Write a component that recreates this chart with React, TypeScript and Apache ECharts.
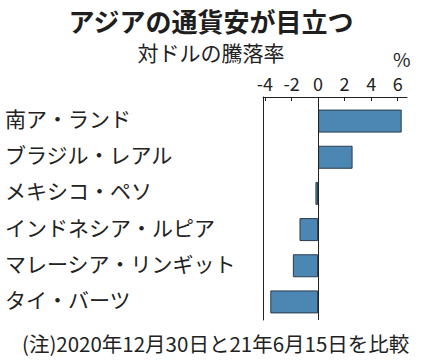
import React, { useEffect, useRef } from "react";
import * as echarts from "echarts";

const categories = [
  "南ア・ランド",
  "ブラジル・レアル",
  "メキシコ・ペソ",
  "インドネシア・ルピア",
  "マレーシア・リンギット",
  "タイ・バーツ",
];
const values = [6.3, 2.6, -0.2, -1.4, -1.9, -3.6];
const tickValues = [-4, -2, 0, 2, 4, 6];
const titleText = "アジアの通貨安が目立つ";
const subtitleText = "対ドルの騰落率";
const unitText = "%";
const noteText = "(注)2020年12月30日と21年6月15日を比較";

const FONT = "'Noto Sans CJK JP', 'Noto Sans', sans-serif";
const X_MIN = -4.15;
const X_MAX = 6.7;

export default function App() {
  const ref = useRef<HTMLDivElement>(null);
  useEffect(() => {
    if (!ref.current) return;
    const chart = echarts.init(ref.current, null, { renderer: "svg" });
    chart.setOption({
      animation: false,
      backgroundColor: "#ffffff",
      textStyle: { fontFamily: FONT },
      title: [
        {
          text: titleText,
          left: "center",
          top: 2,
          textStyle: { fontSize: 26, fontWeight: "bold", color: "#1e1e1e", fontFamily: FONT },
        },
        {
          text: subtitleText,
          left: "center",
          top: 36,
          textStyle: { fontSize: 21, fontWeight: "normal", color: "#222", fontFamily: FONT },
        },
        {
          text: unitText,
          left: 388,
          top: 44,
          textStyle: { fontSize: 19, fontWeight: "normal", color: "#222", fontFamily: FONT },
        },
        {
          text: noteText,
          left: 17,
          top: 328,
          textStyle: { fontSize: 20.5, fontWeight: "normal", color: "#222", fontFamily: FONT },
        },
      ],
      grid: [
        { left: 263, top: 97, width: 144, height: 223 },
        { left: 263, top: 103, width: 144, height: 217 },
      ],
      xAxis: [
        {
          gridIndex: 0,
          type: "value",
          position: "top",
          min: X_MIN,
          max: X_MAX,
          axisLine: { show: true, onZero: false, lineStyle: { color: "#222", width: 1 } },
          axisTick: {
            show: true,
            inside: true,
            length: 4,
            customValues: tickValues,
            lineStyle: { color: "#222" },
          },
          axisLabel: {
            show: true,
            customValues: tickValues,
            margin: 5,
            fontSize: 18,
            color: "#222",
            fontFamily: FONT,
          },
          splitLine: { show: false },
        },
        {
          gridIndex: 1,
          type: "value",
          min: X_MIN,
          max: X_MAX,
          show: false,
        },
      ],
      yAxis: [
        {
          gridIndex: 0,
          type: "value",
          min: 0,
          max: 1,
          axisLine: { show: true, onZero: false, lineStyle: { color: "#222", width: 1 } },
          axisTick: { show: false },
          axisLabel: { show: false },
          splitLine: { show: false },
        },
        {
          gridIndex: 1,
          type: "category",
          inverse: true,
          data: categories,
          axisLine: { show: false },
          axisTick: { show: false },
          axisLabel: {
            align: "left",
            verticalAlign: "bottom",
            lineHeight: 6,
            margin: 258,
            fontSize: 21,
            color: "#222",
            fontFamily: FONT,
          },
        },
      ],
      series: [
        {
          type: "line",
          xAxisIndex: 0,
          yAxisIndex: 0,
          data: [[0, 0]],
          showSymbol: false,
          lineStyle: { opacity: 0 },
          silent: true,
          markLine: {
            silent: true,
            symbol: ["none", "none"],
            label: { show: false },
            lineStyle: { color: "#222", width: 1, type: "solid" },
            data: [{ xAxis: 0 }],
          },
        },
        {
          type: "bar",
          xAxisIndex: 1,
          yAxisIndex: 1,
          data: values,
          barWidth: 23,
          itemStyle: { color: "#4b87b2", borderColor: "#2a3c4c", borderWidth: 1 },
        },
      ],
    });
    return () => chart.dispose();
  }, []);
  return (
    <div
      ref={ref}
      style={{ position: "fixed", left: 0, top: 0, width: 422, height: 362 }}
    />
  );
}
